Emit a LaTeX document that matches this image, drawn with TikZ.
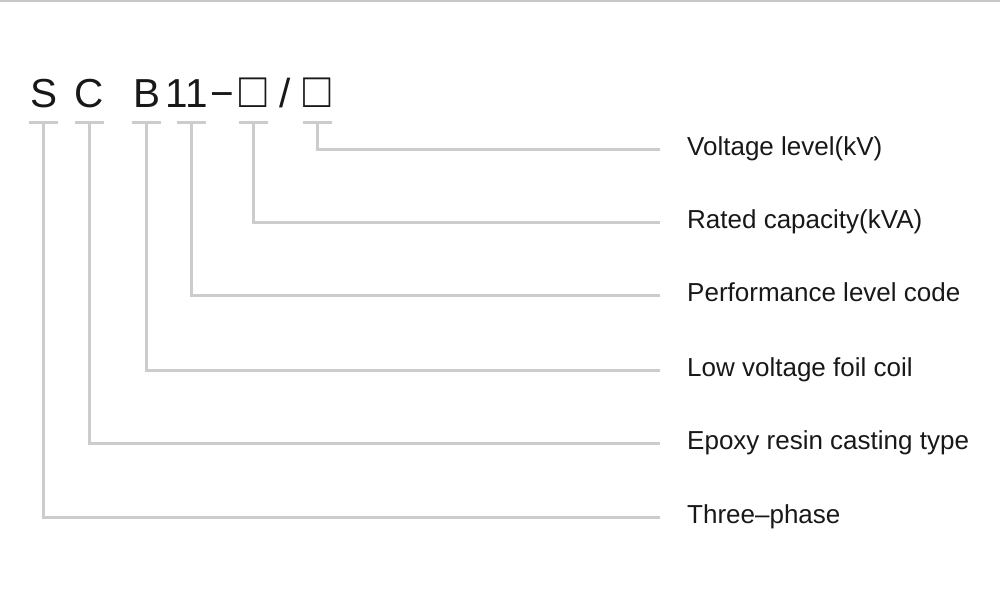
\documentclass[tikz,border=0pt]{standalone}
\usepackage{fontspec}
\setmainfont{Liberation Sans}
\usepackage{tikz}
\definecolor{linegray}{RGB}{204,204,204}
\definecolor{inkblack}{RGB}{24,24,24}
\newcommand{\slotbox}{\scalebox{1.12}[1.22]{□}}

\begin{document}
\begin{tikzpicture}[x=1pt, y=-1pt,
        guide/.style={draw=linegray, line width=3pt},
        code/.style={anchor=base, inner sep=0, text=inkblack, font=\fontsize{40.5}{44}\selectfont},
        item/.style={anchor=west, inner sep=0, text height=16pt, text depth=4pt, text=inkblack, font=\fontsize{26}{30}\selectfont}]
        \useasboundingbox (0, 0) rectangle (1000, 592);
        % Edge
        \draw [draw=black!22, line width=1.5pt] (0, 0.75) -- (1000, 0.75);
        % Code
        \node [code] (S) at (44, 107.5) {S};
        \node [code] (C) at (89.5, 107.5) {C};
        \node [code] (B) at (147.5, 107.5) {B};
        \node [code] (N) at (186.5, 107.5) {11};
        \node [code] (D) at (222, 107.5) {−};
        \node [code] (P) at (253, 107.5) {\slotbox};
        \node [code] (sl) at (285.5, 107.5) {/};
        \node [code] (V) at (317, 107.5) {\slotbox};
        % Ticks
        \coordinate (tS) at (43, 122);
        \coordinate (tC) at (89.5, 122);
        \coordinate (tB) at (146.5, 122);
        \coordinate (tN) at (191.5, 122);
        \coordinate (tP) at (253, 122);
        \coordinate (tV) at (317, 122);
        \foreach \t in {tS, tC, tB, tN, tP, tV}
            \draw [guide] ([xshift=-14.5pt]\t) -- ([xshift=14.5pt]\t);
        % Labels
        \node [item] (lV) at (687, 149) {Voltage level(kV)};
        \node [item] (lP) at (687, 222) {Rated capacity(kVA)};
        \node [item] (lN) at (687, 295.5) {Performance level code};
        \node [item] (lB) at (687, 370) {Low voltage foil coil};
        \node [item] (lC) at (687, 443) {Epoxy resin casting type};
        \node [item] (lS) at (687, 517) {Three–phase};
        % Leaders
        \foreach \k in {S, C, B, N, P, V}
            \draw [guide] (t\k) |- ([xshift=-27pt]l\k.west);
    \end{tikzpicture}
\end{document}
